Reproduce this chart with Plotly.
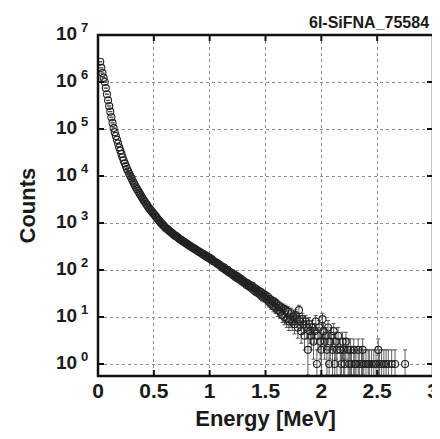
import numpy as np
import plotly.graph_objects as go

# ---- data ----
title_text = "6I-SiFNA_75584"
x_label = "Energy [MeV]"
y_label = "Counts"

energy_start = 0.02   # MeV, centre of first bin
bin_width = 0.01      # MeV

counts = [
    2690000, 2000000, 1550000, 1230000, 1000000, 741000, 550000, 407000, 309000, 234000,
    178000, 135000, 105000, 85100, 70800, 58900, 49000, 40700, 34700, 29500,
    25100, 21400, 18600, 16200, 14100, 12600, 11200, 10000, 8910, 7940,
    7080, 6460, 5750, 5250, 4790, 4370, 3980, 3630, 3310, 3020,
    2820, 2570, 2400, 2190, 2040, 1910, 1780, 1660, 1550, 1450,
    1350, 1260, 1170, 1100, 1020, 977, 912, 871, 813, 776,
    741, 708, 676, 646, 617, 589, 562, 537, 525, 501,
    479, 457, 447, 427, 407, 398, 380, 372, 355, 339,
    331, 316, 309, 295, 288, 275, 269, 257, 251, 238,
    236, 221, 222, 206, 207, 192, 194, 180, 181, 167,
    169, 155, 153, 146, 144, 135, 134, 128, 120, 119,
    109, 113, 102, 98, 101, 90, 92, 84, 86, 77,
    80, 71, 75, 66, 70, 62, 65, 57, 60, 53,
    55, 48, 52, 45, 48, 42, 46, 38, 42, 35,
    39, 33, 36, 30, 34, 27, 31, 26, 29, 24,
    27, 21, 24, 19, 22, 17, 21, 16, 19, 14,
    17, 13, 16, 11, 15, 10, 14, 9, 13, 8,
    9, 12, 8, 10, 7, 11, 9, 6, 14, 8,
    5, 9, 7, 4, 8, 6, 2, 7, 5, 4,
    6, 3, 5, 8, 1, 4, 6, 3, 2, 9,
    5, 3, 4, 2, 6, 1, 3, 4, 2, 5,
    1, 3, 2, 4, 0, 2, 1, 3, 2, 1,
    3, 0, 2, 1, 2, 1, 0, 2, 1, 1,
    0, 2, 1, 0, 1, 2, 1, 0, 1, 0,
    1, 1, 0, 1, 0, 1, 0, 1, 0, 2,
    1, 0, 1, 0, 1, 0, 1, 0, 1, 0,
    0, 1, 0, 0, 1, 0, 0, 0, 0, 0,
    0, 0, 0, 1,
]

y_tick_vals = [1, 10, 100, 1000, 10000, 100000, 1000000, 10000000]
y_tick_exponents = ["0", "1", "2", "3", "4", "5", "6", "7"]
x_tick_vals = [0, 0.5, 1, 1.5, 2, 2.5, 3]
x_tick_text = ["0", "0.5", "1", "1.5", "2", "2.5", "3"]

# ---- build ----
counts_arr = np.array(counts, dtype=float)
energy = np.round(energy_start + bin_width * np.arange(len(counts_arr)), 4)
mask = counts_arr > 0
E = energy[mask]
C = counts_arr[mask]
err = np.sqrt(C)

FONT = "Liberation Sans, Arial, Helvetica, sans-serif"
INK = "#1a1a1a"
X_RANGE = [0, 3]
Y_RANGE = [-0.255, 7]          # log10 units
PLOT_W, PLOT_H = 335, 341      # plot-area size in px (from margins below)
TICK_LEN = 6

fig = go.Figure()
fig.add_trace(go.Scatter(
    x=E, y=C, mode="markers",
    marker=dict(symbol="circle-open", size=7, color="#222222",
                line=dict(width=1.1, color="#222222")),
    error_y=dict(type="data", array=err, visible=True,
                 color="#333333", thickness=0.8, width=2),
    showlegend=False,
))

axis_common = dict(
    showline=False, ticks="",
    showgrid=True, gridcolor="#8c8c8c", griddash="dot", gridwidth=1,
    zeroline=False, automargin=False,
)

# frame and inward tick marks drawn as shapes
shapes = [dict(type="rect", xref="paper", yref="paper", x0=0, x1=1, y0=0, y1=1,
               line=dict(color="#111111", width=2.5), layer="above")]
fx = TICK_LEN / PLOT_W
fy = TICK_LEN / PLOT_H
for v in x_tick_vals:
    for (a, b) in [(0, fy), (1 - fy, 1)]:
        shapes.append(dict(type="line", xref="x", yref="paper", x0=v, x1=v, y0=a, y1=b,
                           line=dict(color="#111111", width=2), layer="above"))
for v in y_tick_vals:
    p = (np.log10(v) - Y_RANGE[0]) / (Y_RANGE[1] - Y_RANGE[0])
    for (a, b) in [(0, fx), (1 - fx, 1)]:
        shapes.append(dict(type="line", xref="paper", yref="paper", x0=a, x1=b,
                           y0=float(p), y1=float(p),
                           line=dict(color="#111111", width=2), layer="above"))

annotations = []
# y tick labels "10" + raised exponent, placed at the tick values
for v, n in zip(y_tick_vals, y_tick_exponents):
    yv = float(np.log10(v))
    annotations.append(dict(
        text="<b>10</b>", xref="paper", x=0, xanchor="right", xshift=-19,
        yref="y", y=yv, yanchor="middle", yshift=2, showarrow=False,
        font=dict(size=19, family=FONT, color=INK)))
    annotations.append(dict(
        text="<b>" + n + "</b>", xref="paper", x=0, xanchor="left", xshift=-19,
        yref="y", y=yv, yanchor="middle", yshift=8, showarrow=False,
        font=dict(size=13, family=FONT, color=INK)))
# y axis title
annotations.append(dict(
    text="<b>" + y_label + "</b>", xref="paper", x=0, xanchor="center", xshift=-71,
    yref="paper", y=0.5, yanchor="middle", textangle=-90, showarrow=False,
    font=dict(size=22, family=FONT, color=INK)))
# chart id at top right
annotations.append(dict(
    text="<b>" + title_text + "</b>", x=1, xref="paper", xanchor="right", xshift=-2,
    y=1, yref="paper", yanchor="bottom", yshift=2, showarrow=False,
    font=dict(size=16, family=FONT, color=INK)))

fig.update_layout(
    width=432, height=431,
    margin=dict(l=90, r=7, t=27, b=63),
    paper_bgcolor="white", plot_bgcolor="white",
    font=dict(family=FONT, color=INK),
    xaxis=dict(range=X_RANGE, tickvals=x_tick_vals,
               ticktext=["<b>%s</b>" % s for s in x_tick_text],
               tickfont=dict(size=21, family=FONT, color=INK),
               ticklabeloverflow="allow",
               title=dict(text="<b>" + x_label + "</b>",
                          font=dict(size=22, family=FONT, color=INK),
                          standoff=9),
               **axis_common),
    yaxis=dict(type="log", range=Y_RANGE, tickvals=y_tick_vals,
               showticklabels=False,
               **axis_common),
    shapes=shapes,
    annotations=annotations,
)

fig.write_html("out.html")
